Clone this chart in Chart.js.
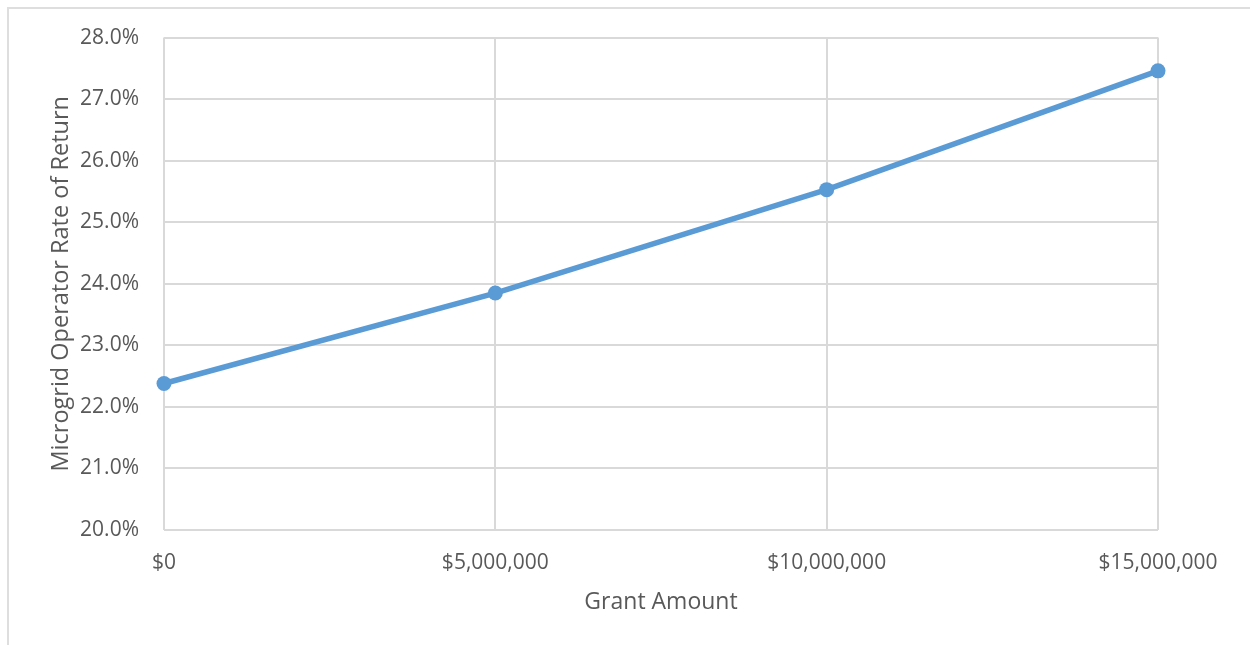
<!DOCTYPE html>
<html lang="en">
<head>
    <meta charset="UTF-8">
    <title>Microgrid Operator Rate of Return</title>
    <script src="https://cdn.jsdelivr.net/npm/chart.js"></script>
    <style>
        html, body { margin: 0; padding: 0; background: #fff; }
        .wrap { position: relative; width: 1250px; height: 645px; overflow: hidden; }
        .frame {
            position: absolute; left: 7px; top: 7px; width: 1300px; height: 700px;
            border-left: 2px solid #dedede; border-top: 2px solid #dedede;
        }
        canvas { position: absolute; left: 0; top: 0; }
    </style>
</head>
<body>
    <div class="wrap">
        <div class="frame"></div>
        <canvas id="rorChart" width="1250" height="645"></canvas>
    </div>
    <script>
        // данные графика
        const grantAmounts = [0, 5000000, 10000000, 15000000];
        const rateOfReturn = [22.38, 23.85, 25.53, 27.46];
        const xTickValues = [0, 5000000, 10000000, 15000000];
        const yTickValues = [20, 21, 22, 23, 24, 25, 26, 27, 28];

        const tickColor = '#595959';
        const gridColor = '#d9d9d9';
        const lineColor = '#5b9bd5';

        const ctx = document.getElementById('rorChart').getContext('2d');

        new Chart(ctx, {
            type: 'line',
            data: {
                datasets: [{
                    label: 'Rate of Return',
                    data: grantAmounts.map((g, i) => ({ x: g, y: rateOfReturn[i] })),
                    borderColor: lineColor,
                    backgroundColor: lineColor,
                    borderWidth: 5.5,
                    pointRadius: 7.5,
                    pointHoverRadius: 7.5,
                    pointBorderWidth: 0,
                    tension: 0,
                    clip: false
                }]
            },
            options: {
                responsive: false,
                animation: false,
                layout: { padding: { top: 35, right: 92, bottom: 0, left: 0 } },
                plugins: { legend: { display: false }, tooltip: { enabled: false } },
                scales: {
                    x: {
                        type: 'linear',
                        min: 0,
                        max: 15000000,
                        afterBuildTicks: s => { s.ticks = xTickValues.map(v => ({ value: v })); },
                        afterFit: s => { s.height = 115; },
                        grid: { color: gridColor, lineWidth: 2, drawTicks: false },
                        border: { display: false },
                        ticks: {
                            color: tickColor,
                            font: { family: 'Open Sans', size: 21 },
                            padding: 20,
                            maxRotation: 0,
                            callback: v => '$' + v.toLocaleString('en-US')
                        },
                        title: {
                            display: true,
                            text: 'Grant Amount',
                            color: tickColor,
                            font: { family: 'Open Sans', size: 23 },
                            padding: { top: 6, bottom: 29 }
                        }
                    },
                    y: {
                        min: 20,
                        max: 28,
                        afterBuildTicks: s => { s.ticks = yTickValues.map(v => ({ value: v })); },
                        afterFit: s => { s.width = 164; },
                        grid: { color: gridColor, lineWidth: 2, drawTicks: false },
                        border: { display: false },
                        ticks: {
                            color: tickColor,
                            font: { family: 'Open Sans', size: 21 },
                            padding: 25,
                            callback: v => v.toFixed(1) + '%'
                        },
                        title: {
                            display: true,
                            text: 'Microgrid Operator Rate of Return',
                            color: tickColor,
                            font: { family: 'Open Sans', size: 23.5 },
                            padding: { top: 47, bottom: 0 }
                        }
                    }
                }
            }
        });
    </script>
</body>
</html>
